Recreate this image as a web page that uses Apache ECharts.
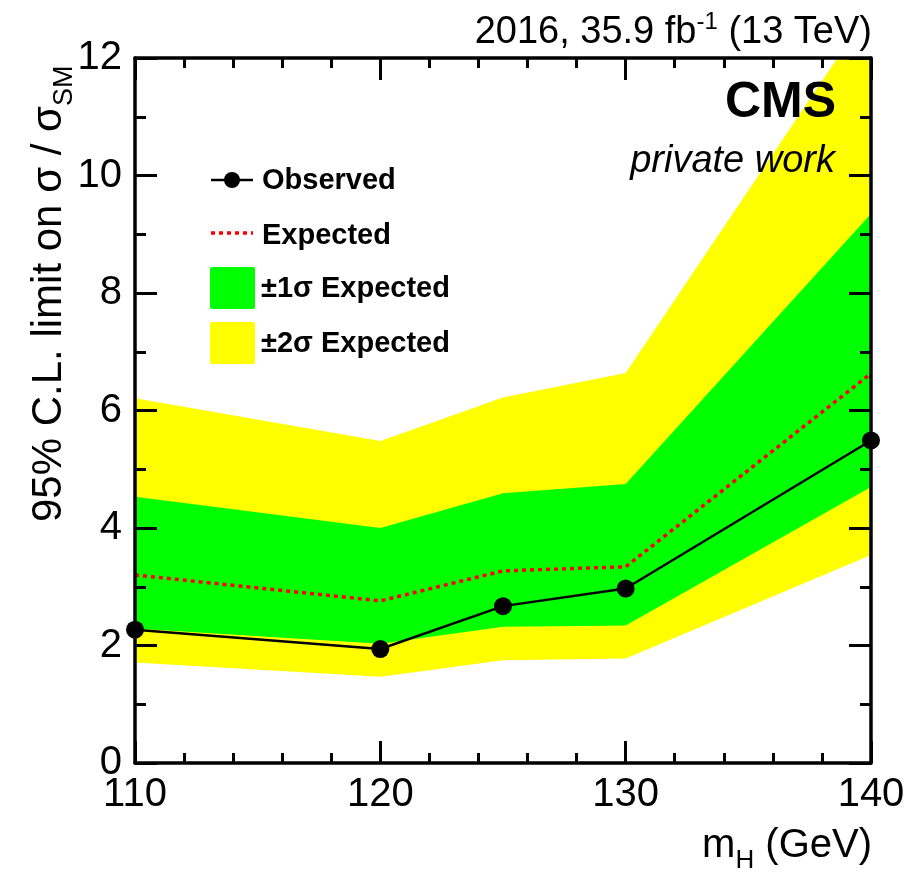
<!DOCTYPE html>
<html>
<head>
<meta charset="utf-8">
<script src="https://cdn.jsdelivr.net/npm/echarts@6/dist/echarts.min.js"></script>
<style>
  html, body { margin: 0; padding: 0; background: #fff; }
  #chart { width: 918px; height: 884px; }
</style>
</head>
<body>
<div id="chart"></div>
<script>
// Higgs mass hypotheses (GeV)
const massPoints = [110, 120, 125, 130, 140];
// 95% CL upper limits on sigma / sigma_SM
const observed = [2.27, 1.94, 2.67, 2.97, 5.49];
const expected = [3.20, 2.76, 3.27, 3.34, 6.63];
const minus1Sigma = [2.29, 2.03, 2.32, 2.34, 4.70];
const plus1Sigma = [4.53, 4.00, 4.59, 4.75, 9.35];
const minus2Sigma = [1.71, 1.47, 1.75, 1.78, 3.54];
const plus2Sigma = [6.21, 5.48, 6.22, 6.64, 12.85];
const xTicks = [110, 120, 130, 140];
const yTicks = [0, 2, 4, 6, 8, 10, 12];

const FONT = 'Liberation Sans, Arial, Helvetica, sans-serif';

const pairs = (ys) => massPoints.map((m, i) => [m, ys[i]]);

// Band as one closed polygon: upper edge left->right, lower edge right->left
function bandSeries(name, lo, hi, color, z) {
  return {
    name: name, type: 'custom', z: z, silent: true, clip: true,
    data: massPoints.map((m, i) => [m, lo[i], hi[i]]),
    encode: { x: 0, y: [1, 2] },
    renderItem: function (params, api) {
      if (params.dataIndex !== 0) return null;
      const pts = [];
      for (let i = 0; i < massPoints.length; i++) pts.push(api.coord([massPoints[i], hi[i]]));
      for (let i = massPoints.length - 1; i >= 0; i--) pts.push(api.coord([massPoints[i], lo[i]]));
      return {
        type: 'polygon',
        shape: { points: pts },
        style: { fill: color, stroke: null }
      };
    }
  };
}

function xAxisDef(pos) {
  return {
    type: 'value', position: pos,
    min: xTicks[0], max: xTicks[xTicks.length - 1], interval: 10,
    z: 10,
    axisLine: { show: true, onZero: false, lineStyle: { color: '#000', width: 3.5 } },
    axisTick: { show: true, inside: true, length: 22, lineStyle: { color: '#000', width: 3 } },
    minorTick: { show: true, splitNumber: 5, length: 10, lineStyle: { color: '#000', width: 3 } },
    splitLine: { show: false },
    axisLabel: {
      show: pos === 'bottom', color: '#000', fontSize: 40, fontFamily: FONT, margin: 12
    }
  };
}
function yAxisDef(pos) {
  return {
    type: 'value', position: pos,
    min: yTicks[0], max: yTicks[yTicks.length - 1], interval: 2,
    z: 10,
    axisLine: { show: true, onZero: false, lineStyle: { color: '#000', width: 3.5 } },
    axisTick: { show: true, inside: true, length: 22, lineStyle: { color: '#000', width: 3 } },
    minorTick: { show: true, splitNumber: 2, length: 11, lineStyle: { color: '#000', width: 3 } },
    splitLine: { show: false },
    axisLabel: {
      show: pos === 'left', color: '#000', fontSize: 40, fontFamily: FONT, margin: 13
    }
  };
}

const chart = echarts.init(document.getElementById('chart'), null, { renderer: 'canvas' });

const option = {
  animation: false,
  backgroundColor: '#fff',
  grid: { left: 135, right: 47, top: 58, bottom: 121, containLabel: false },
  xAxis: [xAxisDef('bottom'), xAxisDef('top')],
  yAxis: [yAxisDef('left'), yAxisDef('right')],
  series: [
    bandSeries('±2σ Expected', minus2Sigma, plus2Sigma, '#ffff00', 2),
    bandSeries('±1σ Expected', minus1Sigma, plus1Sigma, '#00ff00', 3),
    {
      name: 'Expected', type: 'line', data: pairs(expected),
      symbol: 'none',
      lineStyle: { color: '#ff0000', width: 3.5, type: [4, 4] }, z: 4
    },
    {
      name: 'Observed', type: 'line', data: pairs(observed),
      symbol: 'circle', symbolSize: 18,
      itemStyle: { color: '#000' },
      lineStyle: { color: '#000', width: 2.5 }, z: 20
    }
  ],
  graphic: [
    // luminosity / energy label
    {
      type: 'text', right: 46, top: 10, z: 100,
      style: {
        text: '{a|2016, 35.9 fb}{s|-1}{a| (13 TeV)}',
        rich: {
          a: { fontSize: 38, fontFamily: FONT, fill: '#000', lineHeight: 46, verticalAlign: 'middle' },
          s: { fontSize: 24, fontFamily: FONT, fill: '#000', lineHeight: 24, verticalAlign: 'top' }
        }
      }
    },
    {
      type: 'text', right: 82, top: 78, z: 100,
      style: { text: 'CMS', font: 'bold 50px ' + FONT, fill: '#000' }
    },
    {
      type: 'text', right: 83, top: 142, z: 100,
      style: { text: 'private work', font: 'italic 38px ' + FONT, fill: '#000' }
    },
    // x-axis title
    {
      type: 'text', right: 46, top: 826, z: 100,
      style: {
        text: '{a|m}{s|H}{a| (GeV)}',
        rich: {
          a: { fontSize: 40, fontFamily: FONT, fill: '#000', lineHeight: 56, verticalAlign: 'middle' },
          s: { fontSize: 26, fontFamily: FONT, fill: '#000', lineHeight: 26, verticalAlign: 'bottom' }
        }
      }
    },
    // y-axis title
    {
      type: 'text', x: 20, y: 522, rotation: Math.PI / 2, z: 100,
      style: {
        text: '{a|95% C.L. limit on σ / σ}{s|SM}',
        rich: {
          a: { fontSize: 42, fontFamily: FONT, fill: '#000', lineHeight: 58, verticalAlign: 'middle' },
          s: { fontSize: 27, fontFamily: FONT, fill: '#000', lineHeight: 27, verticalAlign: 'bottom' }
        }
      }
    },
    // legend
    {
      type: 'line', z: 100,
      shape: { x1: 211, y1: 180, x2: 253, y2: 180 },
      style: { stroke: '#000', lineWidth: 2.5 }
    },
    {
      type: 'circle', z: 100,
      shape: { cx: 232, cy: 180, r: 8 },
      style: { fill: '#000' }
    },
    {
      type: 'text', x: 262, y: 181, z: 100,
      style: { text: 'Observed', font: 'bold 29px ' + FONT, fill: '#000', verticalAlign: 'middle' }
    },
    {
      type: 'line', z: 100,
      shape: { x1: 211, y1: 233, x2: 253, y2: 233 },
      style: { stroke: '#ff0000', lineWidth: 3.5, lineDash: [4, 4] }
    },
    {
      type: 'text', x: 262, y: 236, z: 100,
      style: { text: 'Expected', font: 'bold 29px ' + FONT, fill: '#000', verticalAlign: 'middle' }
    },
    {
      type: 'rect', z: 100,
      shape: { x: 210, y: 267, width: 45, height: 42, r: 2 },
      style: { fill: '#00ff00' }
    },
    {
      type: 'text', x: 261, y: 289, z: 100,
      style: { text: '±1σ Expected', font: 'bold 29px ' + FONT, fill: '#000', verticalAlign: 'middle' }
    },
    {
      type: 'rect', z: 100,
      shape: { x: 210, y: 322, width: 45, height: 42, r: 2 },
      style: { fill: '#ffff00' }
    },
    {
      type: 'text', x: 261, y: 344, z: 100,
      style: { text: '±2σ Expected', font: 'bold 29px ' + FONT, fill: '#000', verticalAlign: 'middle' }
    }
  ]
};

chart.setOption(option);
</script>
</body>
</html>
